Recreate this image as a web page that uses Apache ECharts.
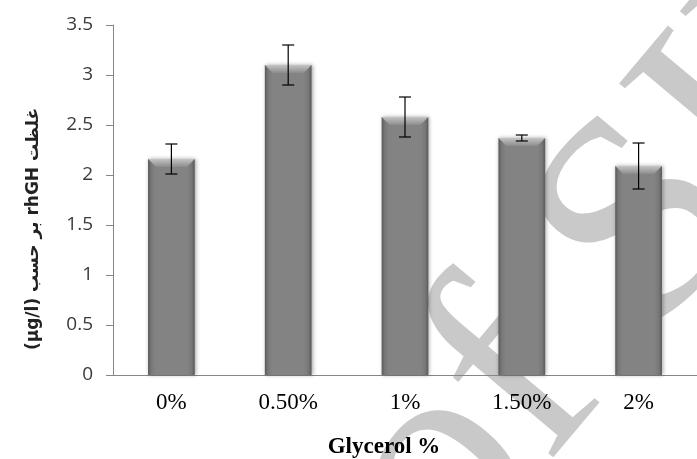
<!DOCTYPE html>
<html>
<head>
<meta charset="utf-8">
<script src="https://cdn.jsdelivr.net/npm/echarts@6/dist/echarts.min.js"></script>
<style>html,body{margin:0;padding:0;background:#fff}#c{width:697px;height:459px}</style>
</head>
<body>
<div id="c"></div>
<script>
var categories = ['0%', '0.50%', '1%', '1.50%', '2%'];
var values = [2.16, 3.10, 2.58, 2.37, 2.09];
var errors = [0.15, 0.20, 0.20, 0.03, 0.23];
var yTickLabels = {'0': '0', '0.5': '0.5', '1': '1', '1.5': '1.5', '2': '2', '2.5': '2.5', '3': '3', '3.5': '3.5'};
var xTitle = 'Glycerol %';
var yTitle = '(µg/l) بر حسب rhGH غلظت';
var watermark = 'of SID';

var chart = echarts.init(document.getElementById('c'));
var errData = values.map(function (v, i) { return [i, v, errors[i]]; });
var bevelData = values.map(function (v, i) { return [i, v]; });

chart.setOption({
  animation: false,
  backgroundColor: '#fff',
  grid: {left: 113, right: -8, top: 25, bottom: 84},
  graphic: [
    {type: 'text', z: -10, x: 505, y: 622, rotation: 50 * Math.PI / 180,
     style: {text: watermark, font: '290px "Liberation Serif"', fill: '#c9c9c9', textVerticalAlign: 'bottom'}},
    {type: 'text', x: 384, y: 447,
     style: {text: xTitle, font: 'bold 23px "Liberation Serif"', fill: '#000', textAlign: 'center', textVerticalAlign: 'middle'}},
    {type: 'text', x: 34, y: 229, rotation: Math.PI / 2,
     style: {text: yTitle, font: 'bold 17px "DejaVu Sans"', fill: '#222', textAlign: 'center', textVerticalAlign: 'middle'}}
  ],
  xAxis: {
    type: 'category', data: categories,
    axisLine: {lineStyle: {color: '#868686', width: 1}},
    axisTick: {length: 7, lineStyle: {color: '#868686'}},
    axisLabel: {color: '#000', fontFamily: 'Liberation Serif', fontSize: 23, margin: 16}
  },
  yAxis: {
    type: 'value', min: 0, max: 3.5, interval: 0.5,
    axisLine: {show: true, lineStyle: {color: '#868686', width: 1}},
    axisTick: {show: true, length: 7, lineStyle: {color: '#868686'}},
    splitLine: {show: false},
    axisLabel: {color: '#3a3a3a', fontFamily: 'Open Sans', fontSize: 19, margin: 20,
      formatter: function (v) { return yTickLabels[String(v)] || String(v); }}
  },
  series: [
    {
      type: 'bar', data: values, barWidth: '40%', z: 2,
      itemStyle: {
        color: new echarts.graphic.LinearGradient(0, 0, 1, 0, [
          {offset: 0, color: '#5a5a5a'},
          {offset: 0.07, color: '#787878'},
          {offset: 0.16, color: '#838383'},
          {offset: 0.84, color: '#838383'},
          {offset: 0.93, color: '#787878'},
          {offset: 1, color: '#5a5a5a'}
        ]),
        shadowBlur: 4, shadowColor: 'rgba(0,0,0,0.35)', shadowOffsetX: 1, shadowOffsetY: 0
      }
    },
    {
      type: 'custom', z: 3, data: bevelData, silent: true,
      renderItem: function (params, api) {
        var top = api.coord([api.value(0), api.value(1)]);
        var w = api.size([1, 0])[0] * 0.4;
        var x0 = top[0] - w / 2, x1 = top[0] + w / 2, y = top[1];
        var h = 8;
        return {
          type: 'polygon',
          shape: {points: [[x0, y], [x1, y], [x1 - h, y + h], [x0 + h, y + h]]},
          style: {fill: new echarts.graphic.LinearGradient(0, 0, 0, 1, [
            {offset: 0, color: '#c4c4c4'},
            {offset: 0.5, color: '#a8a8a8'},
            {offset: 1, color: '#8c8c8c'}
          ])}
        };
      }
    },
    {
      type: 'custom', z: 4, data: errData, silent: true,
      renderItem: function (params, api) {
        var i = api.value(0), v = api.value(1), e = api.value(2);
        var hi = api.coord([i, v + e]);
        var lo = api.coord([i, v - e]);
        var cw = 6;
        var st = {stroke: '#000', lineWidth: 1.2};
        return {
          type: 'group',
          children: [
            {type: 'line', shape: {x1: hi[0], y1: hi[1], x2: lo[0], y2: lo[1]}, style: st},
            {type: 'line', shape: {x1: hi[0] - cw, y1: hi[1], x2: hi[0] + cw, y2: hi[1]}, style: st},
            {type: 'line', shape: {x1: lo[0] - cw, y1: lo[1], x2: lo[0] + cw, y2: lo[1]}, style: st}
          ]
        };
      }
    }
  ]
});
</script>
</body>
</html>
